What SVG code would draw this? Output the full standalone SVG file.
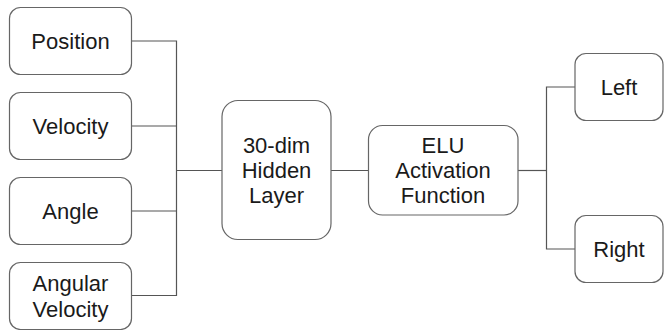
<svg xmlns="http://www.w3.org/2000/svg" width="664" height="330" viewBox="0 0 664 330">
<style>
.box{fill:#ffffff;stroke:#666666;stroke-width:1.2}
.lbl{font-family:"Liberation Sans",Arial,sans-serif;font-size:22px;fill:#1a1a1a;text-anchor:middle}
.con{fill:none;stroke:#555555;stroke-width:1.2}
</style>
<rect width="664" height="330" fill="#ffffff"/>
<g id="connectors">
<path class="con" d="M131.5 41H176.5V295.5H131.5"/>
<path class="con" d="M131.5 126H176.5M131.5 211H176.5"/>
<path class="con" d="M176.5 170.5H222"/>
<path class="con" d="M331 170.5H368"/>
<path class="con" d="M518 170.5H546.5"/>
<path class="con" d="M575 87H546.5V249H575"/>
</g>
<g id="position">
<rect class="box" x="9.5" y="7.5" width="122" height="67" rx="11"/>
<text class="lbl" x="70.5" y="49">Position</text>
</g>
<g id="velocity">
<rect class="box" x="9.5" y="92.5" width="122" height="67" rx="11"/>
<text class="lbl" x="70.5" y="134">Velocity</text>
</g>
<g id="angle">
<rect class="box" x="9.5" y="177.5" width="122" height="67" rx="11"/>
<text class="lbl" x="70.5" y="219">Angle</text>
</g>
<g id="angular-velocity">
<rect class="box" x="9.5" y="262.5" width="122" height="67" rx="11"/>
<text class="lbl" x="70.5" y="291">Angular</text>
<text class="lbl" x="70.5" y="317">Velocity</text>
</g>
<g id="hidden">
<rect class="box" x="222" y="100.5" width="109" height="139" rx="16"/>
<text class="lbl" x="276.5" y="153">30-dim</text>
<text class="lbl" x="276.5" y="178">Hidden</text>
<text class="lbl" x="276.5" y="203">Layer</text>
</g>
<g id="elu">
<rect class="box" x="368.5" y="125.5" width="149.5" height="89.5" rx="14"/>
<text class="lbl" x="443" y="153">ELU</text>
<text class="lbl" x="443" y="178">Activation</text>
<text class="lbl" x="443" y="203">Function</text>
</g>
<g id="left">
<rect class="box" x="575" y="53.5" width="88" height="67" rx="11"/>
<text class="lbl" x="619" y="95">Left</text>
</g>
<g id="right">
<rect class="box" x="575" y="215.5" width="88" height="67" rx="11"/>
<text class="lbl" x="619" y="257">Right</text>
</g>
</svg>
